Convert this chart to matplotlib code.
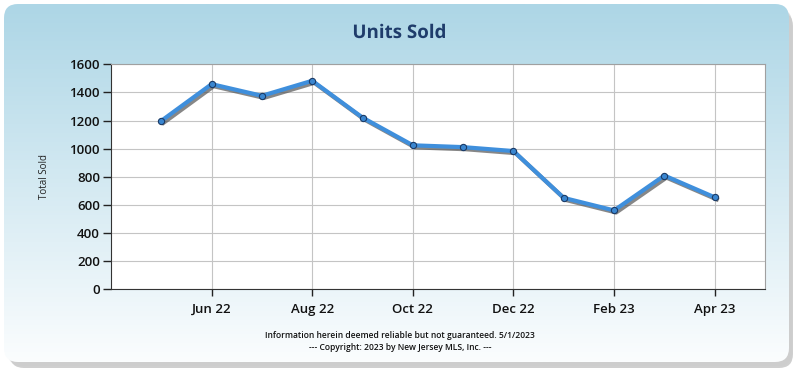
import matplotlib
matplotlib.use("Agg")
import matplotlib.pyplot as plt
import matplotlib.patheffects as pe
from matplotlib.patches import FancyBboxPatch
import numpy as np

months = ["May 22", "Jun 22", "Jul 22", "Aug 22", "Sep 22", "Oct 22",
          "Nov 22", "Dec 22", "Jan 23", "Feb 23", "Mar 23", "Apr 23"]
units_sold = [1198, 1459, 1376, 1483, 1221, 1024, 1011, 983, 650, 561, 809, 654]
tick_labels = ["Jun 22", "Aug 22", "Oct 22", "Dec 22", "Feb 23", "Apr 23"]
y_ticks = [0, 200, 400, 600, 800, 1000, 1200, 1400, 1600]

plt.rcParams['font.family'] = ['Open Sans', 'DejaVu Sans']

W, H = 800, 375
fig = plt.figure(figsize=(8, 3.75), dpi=100)
fig.patch.set_facecolor('white')

# background panel
bg = fig.add_axes([0, 0, 1, 1])
bg.set_xlim(0, W)
bg.set_ylim(H, 0)
bg.axis('off')

shadow = FancyBboxPatch((10, 12), 783, 356, boxstyle="round,pad=0,rounding_size=14",
                        facecolor='#a0a0a0', edgecolor='none', alpha=0.5)
bg.add_patch(shadow)
shadow2 = FancyBboxPatch((8, 9), 784, 357, boxstyle="round,pad=0,rounding_size=14",
                         facecolor='#cccccc', edgecolor='none', alpha=0.6)
bg.add_patch(shadow2)

panel = FancyBboxPatch((4, 4), 785, 358, boxstyle="round,pad=0,rounding_size=14",
                       facecolor='none', edgecolor='none')
bg.add_patch(panel)
grad = np.linspace(0, 1, 256).reshape(-1, 1)
top = np.array([0xad, 0xd6, 0xe6]) / 255
bot = np.array([0xfb, 0xfd, 0xfe]) / 255
img = top[None, None, :] * (1 - grad[:, :, None]) + bot[None, None, :] * grad[:, :, None]
im = bg.imshow(img, extent=(4, 789, 362, 4), aspect='auto', zorder=1)
im.set_clip_path(panel)

# title and footer
fig.text(0.4995, 0.912, "Units Sold", ha='center', va='center', fontsize=13.5,
         fontweight='bold', color='#1f3c6b',
         path_effects=[pe.SimpleLineShadow(offset=(1, -1), shadow_color='#6f8f9f', alpha=0.5),
                       pe.Normal()])
fig.text(0.5, 1 - 336 / H, "Information herein deemed reliable but not guaranteed. 5/1/2023",
         ha='center', va='center', fontsize=6.1, fontweight='semibold', color='#111111')
fig.text(0.5, 1 - 347 / H, "--- Copyright: 2023 by New Jersey MLS, Inc. ---",
         ha='center', va='center', fontsize=6.1, fontweight='semibold', color='#111111')

# main axes
ax = fig.add_axes([111 / W, 1 - 289.3 / H, 654 / W, 225 / H])
ax.set_facecolor('white')
x = np.arange(len(months))
ax.plot(x, units_sold, color='#3f8fdc', lw=3, zorder=3,
        path_effects=[pe.SimpleLineShadow(offset=(1.5, -1.5), shadow_color='#555555', alpha=0.7), pe.Normal()])
ax.plot(x, units_sold, linestyle='none', marker='o', ms=4.5, mfc='#3a86d0',
        mec='#1a3a66', mew=0.8, zorder=4)

ax.set_xlim(-1, 12)
ax.set_ylim(0, 1600)
ax.set_yticks(y_ticks)
ax.set_yticklabels([str(v) for v in y_ticks])
ax.set_xticks([months.index(t) for t in tick_labels])
ax.set_xticklabels(tick_labels)
ax.grid(True, color='#c4c4c4', lw=0.8)
ax.set_axisbelow(True)
for s in ax.spines.values():
    s.set_color('#a0a0a0')
    s.set_linewidth(0.8)
ax.spines['left'].set_color('#333333')
ax.spines['bottom'].set_color('#333333')
ax.tick_params(axis='y', direction='out', length=6, width=1, color='#222222',
               labelsize=9.5, labelcolor='#111111', pad=2)
ax.tick_params(axis='x', direction='out', length=5, width=1, color='#222222',
               labelsize=9.5, labelcolor='#111111', pad=5)
for lab in ax.get_xticklabels() + ax.get_yticklabels():
    lab.set_fontweight('semibold')
ax.set_ylabel("Total Sold", fontsize=7, color='#222222', labelpad=14)

fig.savefig("out.png", dpi=100)
